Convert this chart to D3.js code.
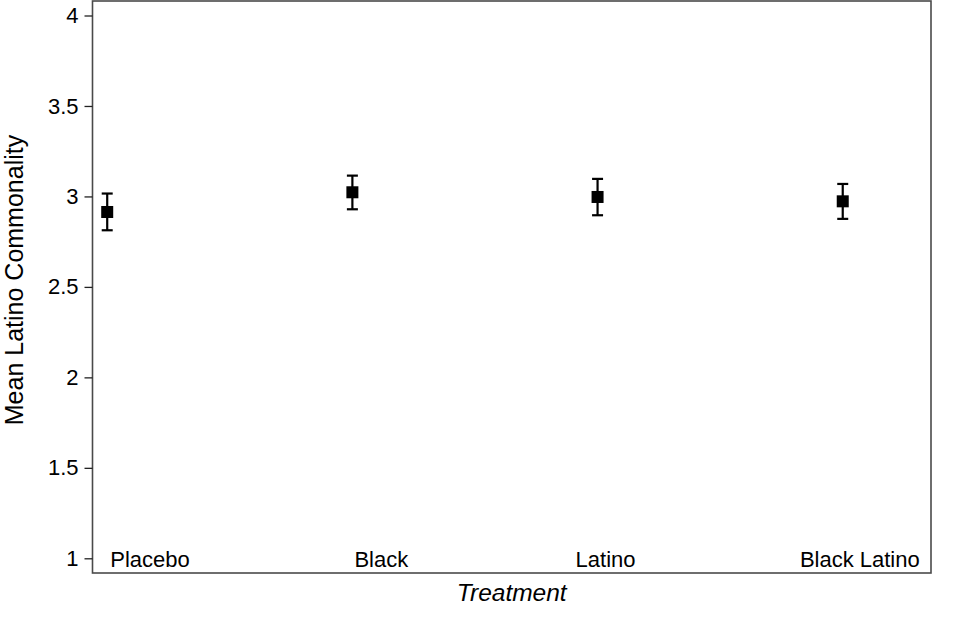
<!DOCTYPE html>
<html>
<head>
<meta charset="utf-8">
<script src="https://cdn.jsdelivr.net/npm/d3@7"></script>
<style>
  body { margin: 0; background: #fff; }
  text { font-family: "Liberation Sans", Arial, Helvetica, sans-serif; fill: #000; }
</style>
</head>
<body>
<div id="chart"></div>
<script>
// data
var treatments = ["Placebo", "Black", "Latino", "Black Latino"];
var means = [2.914, 3.023, 2.997, 2.973];
var lower = [2.813, 2.929, 2.896, 2.876];
var upper = [3.016, 3.115, 3.097, 3.069];
var yTicks = [1, 1.5, 2, 2.5, 3, 3.5, 4];

var width = 961, height = 644;
var margin = {top: 1, right: 30, bottom: 71, left: 92.5};

var svg = d3.select("#chart").append("svg")
  .attr("width", width)
  .attr("height", height);

// scales
var x = d3.scaleLinear().domain([-0.06, 3.36]).range([margin.left, width - margin.right]);
var y = d3.scaleLinear().domain([1, 4]).range([558.3, 15.5]);

// frame
svg.append("rect")
  .attr("x", margin.left)
  .attr("y", margin.top)
  .attr("width", width - margin.right - margin.left)
  .attr("height", height - margin.bottom - margin.top)
  .attr("fill", "none")
  .attr("stroke", "#4a4a4a")
  .attr("stroke-width", 1.6);

// y axis
var yAxis = d3.axisLeft(y)
  .tickValues(yTicks)
  .tickSize(8)
  .tickPadding(6)
  .tickFormat(d3.format("~g"));

var gy = svg.append("g")
  .attr("transform", "translate(" + margin.left + ",0)")
  .call(yAxis);
gy.select(".domain").remove();
gy.selectAll(".tick line").attr("stroke", "#222").attr("stroke-width", 1.3);
gy.selectAll(".tick text")
  .style("font-size", "22px")
  .style("font-family", "'Liberation Sans', Arial, sans-serif")
  .attr("fill", "#000");

// category labels sit inside the frame along the bottom
// (anchor + nudge per label, as in the original)
var labelLayout = [
  {anchor: "start", dx: 3},
  {anchor: "start", dx: 2},
  {anchor: "middle", dx: 8},
  {anchor: "end", dx: 77}
];
svg.selectAll("text.cat")
  .data(treatments)
  .enter().append("text")
  .attr("class", "cat")
  .attr("x", (d, i) => x(i) + labelLayout[i].dx)
  .attr("y", 566.5)
  .attr("text-anchor", (d, i) => labelLayout[i].anchor)
  .style("font-size", "22px")
  .text(d => d);

// error bars
var capW = 11;
var bars = svg.selectAll("g.err")
  .data(treatments)
  .enter().append("g")
  .attr("class", "err")
  .attr("stroke", "#000")
  .attr("stroke-width", 2.2);

bars.append("line")
  .attr("x1", (d, i) => x(i)).attr("x2", (d, i) => x(i))
  .attr("y1", (d, i) => y(lower[i])).attr("y2", (d, i) => y(upper[i]));
bars.append("line")
  .attr("x1", (d, i) => x(i) - capW / 2).attr("x2", (d, i) => x(i) + capW / 2)
  .attr("y1", (d, i) => y(upper[i])).attr("y2", (d, i) => y(upper[i]));
bars.append("line")
  .attr("x1", (d, i) => x(i) - capW / 2).attr("x2", (d, i) => x(i) + capW / 2)
  .attr("y1", (d, i) => y(lower[i])).attr("y2", (d, i) => y(lower[i]));

// mean markers
var sq = 12;
svg.selectAll("rect.mean")
  .data(means)
  .enter().append("rect")
  .attr("class", "mean")
  .attr("x", (d, i) => x(i) - sq / 2)
  .attr("y", d => y(d) - sq / 2)
  .attr("width", sq)
  .attr("height", sq)
  .attr("fill", "#000");

// axis titles
svg.append("text")
  .attr("x", (margin.left + width - margin.right) / 2)
  .attr("y", 601)
  .attr("text-anchor", "middle")
  .style("font-size", "24.5px")
  .style("font-style", "italic")
  .text("Treatment");

svg.append("text")
  .attr("transform", "translate(23,280) rotate(-90)")
  .attr("text-anchor", "middle")
  .style("font-size", "25px")
  .text("Mean Latino Commonality");
</script>
</body>
</html>
